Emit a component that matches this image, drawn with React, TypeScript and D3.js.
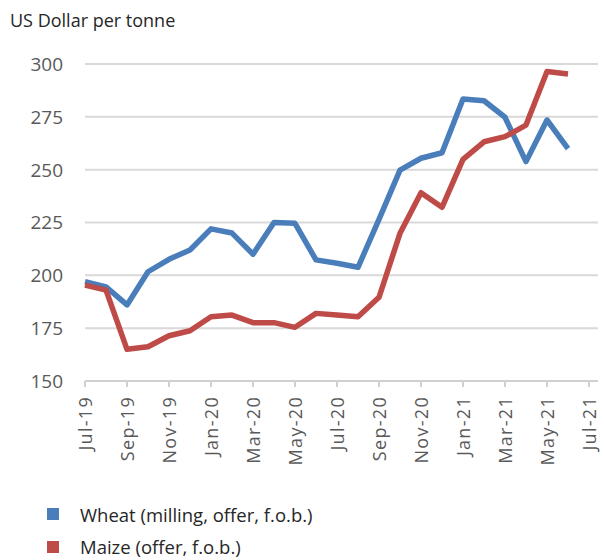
import React from "react";
import * as d3 from "d3";

const months = [
  "Jul-19","Aug-19","Sep-19","Oct-19","Nov-19","Dec-19","Jan-20","Feb-20","Mar-20","Apr-20","May-20","Jun-20",
  "Jul-20","Aug-20","Sep-20","Oct-20","Nov-20","Dec-20","Jan-21","Feb-21","Mar-21","Apr-21","May-21","Jun-21",
];
const wheat = [197, 194.5, 186, 201.7, 207.6, 212, 222, 220, 210, 225, 224.6, 207.3, 205.7, 203.8, 226.5, 249.8, 255.4, 258, 283.4, 282.6, 274.8, 253.8, 273.5, 260];
const maize = [195.4, 193, 165, 166.2, 171.4, 173.8, 180.4, 181.2, 177.6, 177.6, 175.4, 182, 181.2, 180.4, 189.6, 219.9, 239.1, 232.2, 254.9, 263.2, 265.6, 271.1, 296.4, 295.3];
const tickLabels = ["Jul-19","Sep-19","Nov-19","Jan-20","Mar-20","May-20","Jul-20","Sep-20","Nov-20","Jan-21","Mar-21","May-21","Jul-21"];
const yTicks = [150, 175, 200, 225, 250, 275, 300];
const seriesNames = ["Wheat (milling, offer, f.o.b.)", "Maize (offer, f.o.b.)"];
const colors = ["#4a7ebb", "#be4b48"];

export default function App() {
  const W = 604, H = 560;
  const left = 85, right = 598, top = 64, bottom = 381;
  const x = d3.scaleLinear().domain([0, 24.5]).range([left, left + 24.5 * 21]);
  const y = d3.scaleLinear().domain([150, 300]).range([bottom, top]);
  const line = d3.line<number>().x((_, i) => x(i)).y((d) => y(d));
  const font = "'Open Sans', 'Liberation Sans', sans-serif";
  return (
    <svg width={W} height={H} style={{ position: "absolute", left: 0, top: 0, background: "#fff" }}>
      <text x={10} y={27} fontFamily={font} fontSize={18} fill="#262626">US Dollar per tonne</text>
      {yTicks.map((t) => (
        <g key={t}>
          {t !== 150 && <line x1={left} x2={right} y1={y(t)} y2={y(t)} stroke="#d9d9d9" strokeWidth={2} />}
          <text x={63} y={y(t)} dy="0.36em" textAnchor="end" fontFamily={font} fontSize={19} fill="#595959">{t}</text>
        </g>
      ))}
      <line x1={left} x2={right} y1={bottom} y2={bottom} stroke="#d0d0d0" strokeWidth={2} />
      {tickLabels.map((lab, k) => {
        const tx = x(k * 2);
        return (
          <g key={lab}>
            <line x1={tx} x2={tx} y1={bottom} y2={bottom + 6} stroke="#d0d0d0" strokeWidth={2} />
            <text transform={`translate(${tx + 7},${bottom + 15}) rotate(-90)`} textAnchor="end" fontFamily={font} fontSize={18} letterSpacing={1.3} fill="#595959">{lab}</text>
          </g>
        );
      })}
      <path d={line(wheat) || ""} fill="none" stroke={colors[0]} strokeWidth={5.5} strokeLinejoin="round" />
      <path d={line(maize) || ""} fill="none" stroke={colors[1]} strokeWidth={5.5} strokeLinejoin="round" />
      {seriesNames.map((n, i) => (
        <g key={n}>
          <rect x={47} y={508 + i * 33} width={12} height={12} fill={colors[i]} />
          <text x={80} y={522 + i * 32} fontFamily={font} fontSize={18.5} fill="#262626">{n}</text>
        </g>
      ))}
    </svg>
  );
}
